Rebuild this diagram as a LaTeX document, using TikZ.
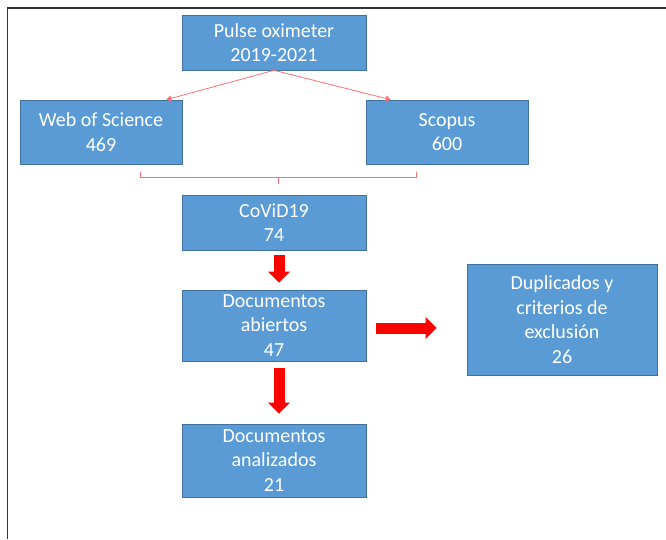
\documentclass[tikz,border=0pt]{standalone}
\usepackage{fontspec}
\setmainfont{Carlito}
\usetikzlibrary{arrows.meta,calc}
\definecolor{azul}{HTML}{5B9BD5}
\definecolor{azulborde}{HTML}{41719C}
\definecolor{rojoclaro}{HTML}{FF6F73}
\tikzstyle{caja}=[rectangle, draw=azulborde, line width=0.6pt, fill=azul, text=white, align=center, inner sep=0pt, font=\fontsize{20}{24.5}\selectfont]
\tikzstyle{flecha}=[draw=red, line width=11pt, -{Triangle[width=21pt,length=11pt]}]
\tikzstyle{fina}=[draw=rojoclaro, line width=0.8pt]

\begin{document}
\begin{tikzpicture}[x=1pt, y=-1pt]
            \useasboundingbox (0,0) rectangle (666,539);
            \draw[line width=1.6pt, draw=black!80] (7.5,539) -- (7.5,8) -- (666,8);

            % cajas
            \node[caja, minimum width=184pt, minimum height=55pt] (pulse) at (274,42.5) {Pulse oximeter\\2019-2021};
            \node[caja, minimum width=162pt, minimum height=64pt] (wos) at (101,132) {Web of Science\\469};
            \node[caja, minimum width=162pt, minimum height=64pt] (scopus) at (447,132) {Scopus\\600};
            \node[caja, minimum width=184pt, minimum height=55pt] (covid) at (274,222.5) {CoViD19\\74};
            \node[caja, minimum width=184pt, minimum height=71pt] (abiertos) at (274,325.5) {Documentos\\abiertos\\47};
            \node[caja, minimum width=190pt, minimum height=111pt] (dup) at (562,319.5) {Duplicados y\\criterios de\\exclusión\\26};
            \node[caja, minimum width=184pt, minimum height=73pt] (analizados) at (274,460.5) {Documentos\\analizados\\21};

            % conectores finos
            \draw[fina, -{Triangle[width=6pt,length=5pt]}] (pulse.south) -- ($(wos.north east)+(-16,0)$);
            \draw[fina, -{Triangle[width=6pt,length=5pt]}] (pulse.south) -- ($(scopus.north west)+(25,0)$);
            \coordinate (llave) at ($(covid.north)+(4,-18)$);
            \draw[fina] ($(wos.south)+(39,8)$) -- ($(wos.south)+(39,13)$) -- ($(scopus.south)+(-31,13)$) -- ($(scopus.south)+(-31,8)$);
            \draw[fina] (llave) -- ++(0,7);

            % flechas
            \draw[flecha, shorten <=5pt, shorten >=7pt] ($(covid.south)+(5,0)$) -- ($(abiertos.north)+(5,0)$);
            \draw[flecha, shorten <=7pt, shorten >=10pt] ($(abiertos.south)+(5,0)$) -- ($(analizados.north)+(5,0)$);
            \draw[flecha, shorten <=10pt, shorten >=30pt] ($(abiertos.east)+(0,2.5)$) -- ($(abiertos.east -| dup.west)+(0,2.5)$);
        \end{tikzpicture}
\end{document}
